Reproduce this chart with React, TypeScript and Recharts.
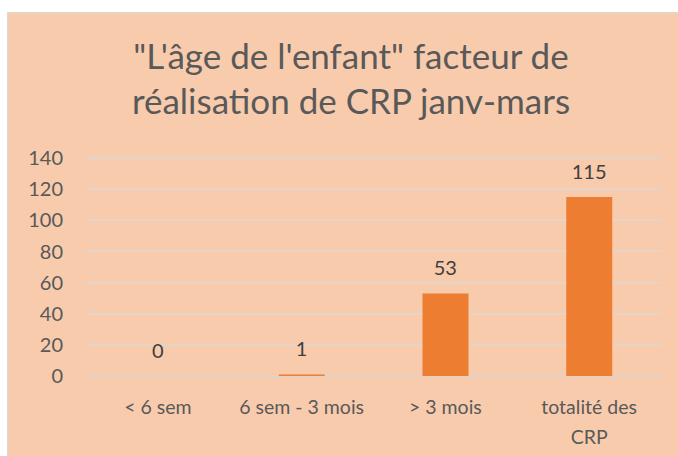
import { Bar, CartesianGrid, ComposedChart, LabelList, Line, XAxis, YAxis } from "recharts";

const categories = ["< 6 sem", "6 sem - 3 mois", "> 3 mois", "totalité des CRP"];
const counts = [0, 1, 53, 115];
const yTicks = [0, 20, 40, 60, 80, 100, 120, 140];

const data = categories.map((name, i) => ({ name, value: counts[i] }));

const FONT = "Lato, 'Open Sans', sans-serif";

// greedy word wrap, roughly what fits in one category slot
const wrap = (s: string, max = 14) => {
  const lines: string[] = [];
  let cur = "";
  s.split(" ").forEach((w) => {
    const next = cur ? cur + " " + w : w;
    if (next.length > max && cur) {
      lines.push(cur);
      cur = w;
    } else {
      cur = next;
    }
  });
  if (cur) lines.push(cur);
  return lines;
};

const CategoryTick = (props: any) => {
  const { x, y, payload } = props;
  const lines = wrap(String(payload.value));
  return (
    <text x={x} y={y} textAnchor="middle" fill="#595959" fontSize={19.5} fontFamily={FONT}>
      {lines.map((l, i) => (
        <tspan key={i} x={x} dy={i === 0 ? "0.71em" : 30}>
          {l}
        </tspan>
      ))}
    </text>
  );
};

const App = () => {
  return (
    <div style={{ position: "fixed", left: 0, top: 0, width: 678, height: 456, overflow: "hidden", background: "#fff" }}>
      <div
        style={{
          position: "absolute",
          left: 7,
          top: 12,
          width: 690,
          height: 460,
          background: "#F8CBAD",
          border: "1px solid #D9D9D9",
          fontFamily: FONT,
        }}
      >
        <div
          style={{
            position: "absolute",
            left: 0,
            top: 20,
            width: 686,
            textAlign: "center",
            fontSize: 35,
            lineHeight: "45px",
            color: "#595959",
          }}
        >
          "L'âge de l'enfant" facteur de
          <br />
          réalisation de CRP janv-mars
        </div>
        <div style={{ position: "absolute", left: 0, top: 0 }}>
          <ComposedChart
            width={670}
            height={446}
            data={data}
            margin={{ top: 145, right: 17, bottom: 10, left: 18 }}
          >
            <CartesianGrid vertical={false} stroke="#D9D9D9" strokeWidth={1.3} />
            <XAxis
              dataKey="name"
              axisLine={false}
              tickLine={false}
              tickSize={0}
              tickMargin={24}
              height={73}
              interval={0}
              tick={<CategoryTick />}
            />
            <YAxis
              domain={[0, 140]}
              ticks={yTicks}
              width={60}
              axisLine={false}
              tickLine={false}
              tickSize={0}
              tickMargin={23}
              tick={{ fill: "#595959", fontSize: 20, fontFamily: FONT }}
            />
            <Bar dataKey="value" fill="#ED7D31" barSize={46} isAnimationActive={false} />
            <Line
              dataKey="value"
              stroke="none"
              dot={false}
              activeDot={false}
              legendType="none"
              isAnimationActive={false}
            >
              <LabelList
                dataKey="value"
                position="top"
                offset={18}
                fill="#404040"
                fontSize={20}
                fontFamily={FONT}
              />
            </Line>
          </ComposedChart>
        </div>
      </div>
    </div>
  );
};

export default App;
